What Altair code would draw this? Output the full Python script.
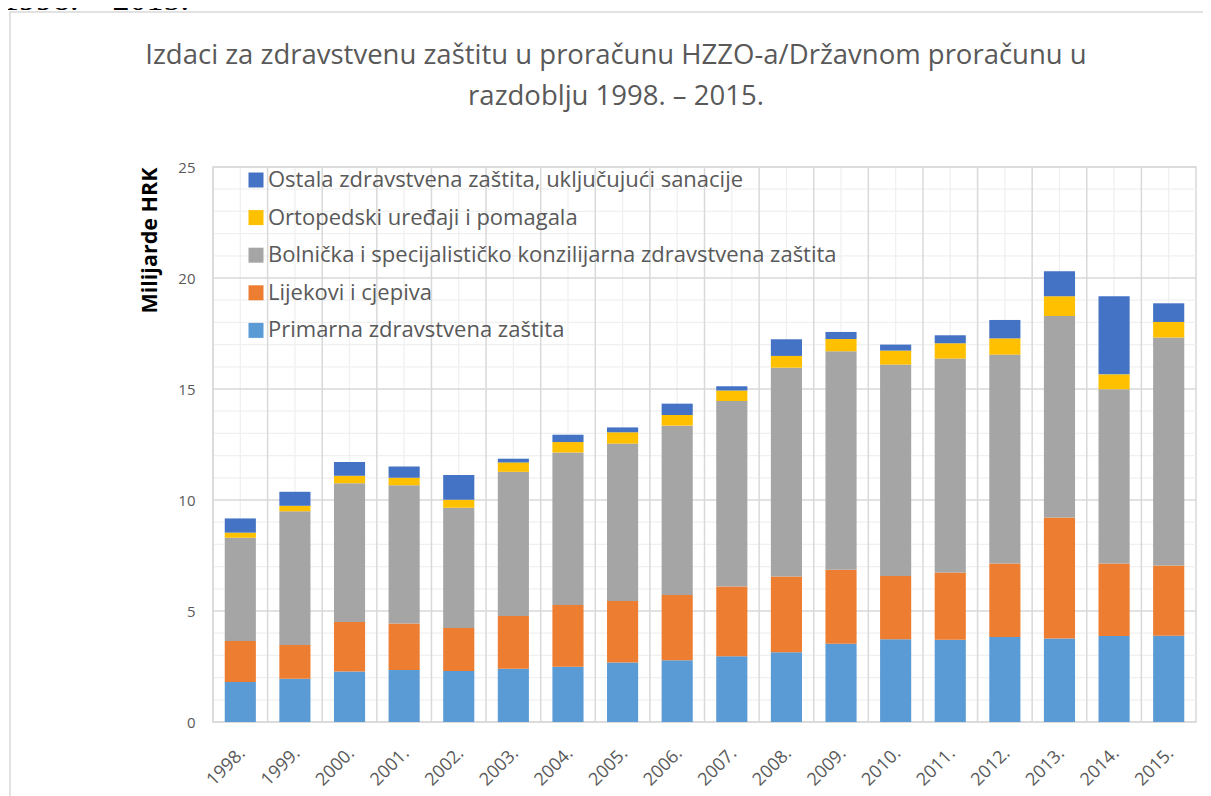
import altair as alt
import pandas as pd

years = ["1998.", "1999.", "2000.", "2001.", "2002.", "2003.", "2004.", "2005.", "2006.",
         "2007.", "2008.", "2009.", "2010.", "2011.", "2012.", "2013.", "2014.", "2015."]

series_names = [
    "Primarna zdravstvena zaštita",
    "Lijekovi i cjepiva",
    "Bolnička i specijalističko konzilijarna zdravstvena zaštita",
    "Ortopedski uređaji i pomagala",
    "Ostala zdravstvena zaštita, uključujući sanacije",
]
series_colors = ["#5B9BD5", "#ED7D31", "#A5A5A5", "#FFC000", "#4472C4"]

primarna = [1.80, 1.95, 2.27, 2.34, 2.30, 2.40, 2.49, 2.68, 2.78, 2.96, 3.14, 3.53, 3.73, 3.71, 3.83, 3.76, 3.87, 3.89]
lijekovi = [1.85, 1.52, 2.23, 2.10, 1.93, 2.37, 2.78, 2.77, 2.94, 3.14, 3.41, 3.33, 2.85, 3.02, 3.31, 5.45, 3.27, 3.16]
bolnicka = [4.65, 6.02, 6.25, 6.22, 5.42, 6.50, 6.87, 7.09, 7.63, 8.36, 9.41, 9.84, 9.52, 9.64, 9.41, 9.08, 7.85, 10.27]
ortopedski = [0.23, 0.25, 0.34, 0.34, 0.36, 0.42, 0.47, 0.51, 0.48, 0.47, 0.53, 0.55, 0.63, 0.69, 0.73, 0.89, 0.67, 0.70]
ostala = [0.64, 0.63, 0.62, 0.51, 1.12, 0.17, 0.33, 0.22, 0.51, 0.19, 0.75, 0.32, 0.27, 0.36, 0.83, 1.12, 3.52, 0.84]

y_major = [0, 5, 10, 15, 20, 25]
y_minor = [1, 2, 3, 4, 6, 7, 8, 9, 11, 12, 13, 14, 16, 17, 18, 19, 21, 22, 23, 24]

title_lines = ["Izdaci za zdravstvenu zaštitu u proračunu HZZO-a/Državnom proračunu u",
               "razdoblju 1998. – 2015."]
doc_text = "1998. – 2015."
y_title = "Milijarde HRK"

FONT = "Open Sans"
GREY_TXT = "#595959"
W, H = 983, 555

rows = []
for idx, (name, vals) in enumerate(zip(series_names, [primarna, lijekovi, bolnicka, ortopedski, ostala])):
    for yr, v in zip(years, vals):
        rows.append({"year": yr, "series": name, "value": v, "k": idx})
df = pd.DataFrame(rows)

xscale = alt.Scale(domain=years, paddingInner=0, paddingOuter=0)
yscale = alt.Scale(domain=[0, 25], nice=False)

minor_h = alt.Chart(pd.DataFrame({"v": y_minor})).mark_rule(color="#f0f0f0", strokeWidth=1.3).encode(
    y=alt.Y("v:Q", scale=yscale, axis=None))
minor_v = alt.Chart(pd.DataFrame({"year": years})).mark_rule(color="#f0f0f0", strokeWidth=1.3).encode(
    x=alt.X("year:N", scale=xscale, bandPosition=0.5, axis=None, sort=years))
major_h = alt.Chart(pd.DataFrame({"v": y_major})).mark_rule(color="#d9d9d9", strokeWidth=1.5).encode(
    y=alt.Y("v:Q", scale=yscale, axis=None))
major_v = alt.Chart(pd.DataFrame({"year": years})).mark_rule(color="#d9d9d9", strokeWidth=1.5).encode(
    x=alt.X("year:N", scale=xscale, bandPosition=0, axis=None, sort=years))

bars = alt.Chart(df).mark_bar(width=alt.RelativeBandSize(0.57)).encode(
    x=alt.X("year:N", scale=xscale, sort=years,
            axis=alt.Axis(title=None, labelAngle=-45, labelFontSize=18, labelColor=GREY_TXT,
                          labelFont=FONT, ticks=False, domain=False, grid=False,
                          labelPadding=22, labelOffset=-4)),
    y=alt.Y("value:Q", scale=yscale, stack="zero",
            axis=alt.Axis(title=y_title, values=y_major, ticks=False, domain=False, grid=False,
                          labelFontSize=15, labelColor=GREY_TXT, labelFont=FONT, labelPadding=18,
                          titleFont=FONT, titleFontSize=21.5, titleFontWeight="bold", titleColor="black",
                          titleAnchor="end", titlePadding=16)),
    color=alt.Color("series:N",
                    scale=alt.Scale(domain=series_names[::-1], range=series_colors[::-1]),
                    legend=alt.Legend(title=None, orient="none", legendX=32, legendY=2,
                                      labelFontSize=22, labelColor=GREY_TXT, labelFont=FONT,
                                      symbolType="square", symbolSize=225, symbolStrokeWidth=0,
                                      rowPadding=15.6, labelOffset=1, labelLimit=800)),
    order=alt.Order("k:Q", sort="ascending"),
)

one = pd.DataFrame({"t": [0]})
frame = alt.Chart(one).mark_rect(fillOpacity=0, stroke="#d9d9d9", strokeWidth=1.5).encode(
    x=alt.value(-203), x2=alt.value(1100), y=alt.value(-155), y2=alt.value(700))

title1 = alt.Chart(pd.DataFrame({"t": [title_lines[0]]})).mark_text(
    font=FONT, fontSize=27.5, color=GREY_TXT, align="center", baseline="alphabetic").encode(
    text="t:N", x=alt.value(403), y=alt.value(-103))
title2 = alt.Chart(pd.DataFrame({"t": [title_lines[1]]})).mark_text(
    font=FONT, fontSize=27.5, color=GREY_TXT, align="center", baseline="alphabetic").encode(
    text="t:N", x=alt.value(403), y=alt.value(-62))
doc = alt.Chart(pd.DataFrame({"t": [doc_text]})).mark_text(
    font="Liberation Serif", fontSize=34, color="black", align="left", baseline="alphabetic").encode(
    text="t:N", x=alt.value(-211), y=alt.value(-157))

chart = alt.layer(frame, doc, title1, title2, minor_h, minor_v, major_h, major_v, bars).resolve_axis(
    x="independent", y="independent"
).properties(
    width=W, height=H,
    autosize=alt.AutoSizeParams(type="none"),
    padding={"left": 205, "top": 159, "right": 7, "bottom": 80},
).configure_view(stroke="#d9d9d9", strokeWidth=1.5)

chart.save("out.html", embed_options={"renderer": "svg", "actions": False})
